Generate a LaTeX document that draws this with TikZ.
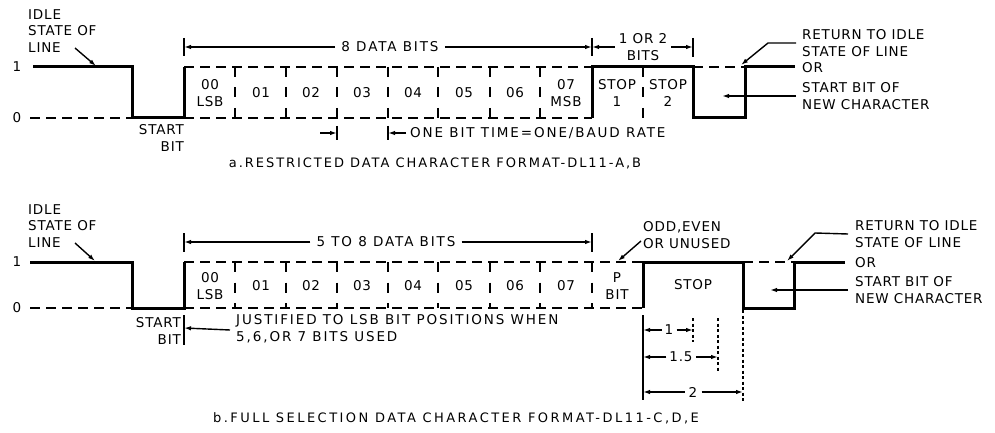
\documentclass[tikz,border=0pt]{standalone}
\usepackage{fontspec}
\setmainfont{DejaVu Sans}[LetterSpace=6]
\usetikzlibrary{arrows.meta}

\begin{document}
\begin{tikzpicture}[x=1pt, y=-1pt,
        signal/.style={line width=3pt},
        level/.style={line width=2pt, dash pattern=on 10pt off 6pt},
        divider/.style={line width=1.7pt, dash pattern=on 10pt off 10.5pt},
        tick/.style={line width=1.4pt},
        dim/.style={line width=1.4pt, -{Latex[length=7pt,width=4.5pt]}},
        guide/.style={line width=1.3pt, dash pattern=on 3pt off 2.5pt},
        lbl/.style={font=\fontsize{13.5}{16.5}\selectfont, inner sep=0pt, align=center},
        wide/.style={lbl, font=\fontsize{13.5}{16.5}\selectfont\addfontfeature{LetterSpace=14}},
        caption/.style={font=\fontsize{13}{15}\selectfont\addfontfeature{LetterSpace=#1}, inner sep=0pt}
    ]
        \useasboundingbox (0,0) rectangle (995,433);

        % ===== a. Restricted format =====
        % Levels
        \node[lbl] (oneA) at (17,67) {1};
        \node[lbl] (zeroA) at (17,118) {0};

        % Waveform
        \draw[level] (30,118) -- (132,118);
        \draw[signal] (33,67) -- (132,67) -- (132,118) -- (184,118) -- (184,67);
        \draw[level] (184,67) -- (592,67);
        \draw[level] (184,118) -- (592,118);
        \draw[signal] (592,118) -- (592,67) -- (693,67) -- (693,118) -- (745,118) -- (745,67) -- (795,67);
        \draw[level] (693,67) -- (745,67);

        % Bit boundaries
        \draw[divider] (235,67) -- (235,118);
        \draw[divider] (286,67) -- (286,118);
        \draw[divider] (337,67) -- (337,118);
        \draw[divider] (388,67) -- (388,118);
        \draw[divider] (438,67) -- (438,118);
        \draw[divider] (490,67) -- (490,118);
        \draw[divider] (540,67) -- (540,118);
        \draw[divider] (643,67) -- (643,118);

        % Bits
        \node[lbl] (b0A) at (210,93) {00\\LSB};
        \node[lbl] (b1A) at (261,93) {01};
        \node[lbl] (b2A) at (311,93) {02};
        \node[lbl] (b3A) at (362,93) {03};
        \node[lbl] (b4A) at (413,93) {04};
        \node[lbl] (b5A) at (464,93) {05};
        \node[lbl] (b6A) at (515,93) {06};
        \node[lbl] (b7A) at (566,93) {07\\MSB};
        \node[lbl] (stop1A) at (617,93) {STOP\\1};
        \node[lbl] (stop2A) at (668,93) {STOP\\2};

        % Data bits / stop bits span
        \draw[tick] (184,38) -- (184,56);
        \draw[tick] (592,38) -- (592,56);
        \draw[tick] (693,38) -- (693,57);
        \coordinate (dataLA) at (184,47);
        \coordinate (dataRA) at (592,47);
        \coordinate (stopRA) at (693,47);
        \node[wide, inner sep=6pt] (dataA) at (390,47) {8 DATA BITS};
        \draw[dim] (dataA) -- (dataLA);
        \draw[dim] (dataA) -- (dataRA);
        \node[lbl, inner sep=4pt] (stopbitsA) at (643,47) {1 OR 2\\BITS};
        \draw[dim] (stopbitsA) -- (dataRA);
        \draw[dim] (stopbitsA) -- (stopRA);

        % One bit time
        \draw[tick] (337,126) -- (337,140);
        \draw[tick] (388,126) -- (388,140);
        \coordinate (bitInA) at (320,133);
        \coordinate (bitLA) at (337,133);
        \coordinate (bitRA) at (388,133);
        \node[wide, anchor=west, inner sep=4pt] (bittimeA) at (406,133) {ONE BIT TIME=ONE/BAUD RATE};
        \draw[dim] (bitInA) -- (bitLA);
        \draw[dim] (bittimeA.west) -- (bitRA);

        % Start bit and idle
        \node[lbl, align=right, anchor=east] (startA) at (184,138) {START\\BIT};
        \node[lbl, align=left, anchor=west] (idleA) at (28,31) {IDLE\\STATE OF\\LINE};
        \coordinate (idleFromA) at (75,48);
        \coordinate (idleTipA) at (96,66);
        \draw[dim] (idleFromA) -- (idleTipA);

        % Right side notes
        \node[lbl, align=left, anchor=west] (returnA) at (802,43) {RETURN TO IDLE\\STATE OF LINE};
        \node[lbl, anchor=west] (orA) at (802,68) {OR};
        \node[lbl, align=left, anchor=west] (newcharA) at (802,96) {START BIT OF\\NEW CHARACTER};
        \coordinate (returnKneeA) at (768,43);
        \coordinate (returnTipA) at (741,65);
        \draw[dim] ([xshift=-6pt]returnA.west) -- (returnKneeA) -- (returnTipA);
        \coordinate (newTipA) at (722,96);
        \draw[dim] ([xshift=-6pt]newcharA.west) -- (newTipA);

        \node[caption=15] (capA) at (435,163) {a.RESTRICTED DATA CHARACTER FORMAT-DL11-A,B};

        % ===== b. Full selection format =====
        % Levels
        \node[lbl] (oneB) at (17,262) {1};
        \node[lbl] (zeroB) at (17,308) {0};

        % Waveform
        \draw[level] (30,308) -- (132,308);
        \draw[signal] (30,262) -- (132,262) -- (132,308) -- (184,308) -- (184,262);
        \draw[level] (184,262) -- (643,262);
        \draw[level] (184,308) -- (643,308);
        \draw[signal] (643,308) -- (643,262) -- (743,262) -- (743,308) -- (794,308) -- (794,262) -- (845,262);
        \draw[level] (743,262) -- (794,262);

        % Bit boundaries
        \draw[divider] (235,262) -- (235,308);
        \draw[divider] (286,262) -- (286,308);
        \draw[divider] (337,262) -- (337,308);
        \draw[divider] (388,262) -- (388,308);
        \draw[divider] (438,262) -- (438,308);
        \draw[divider] (490,262) -- (490,308);
        \draw[divider] (540,262) -- (540,308);
        \draw[divider] (592,262) -- (592,308);

        % Bits
        \node[lbl] (b0B) at (210,286) {00\\LSB};
        \node[lbl] (b1B) at (261,286) {01};
        \node[lbl] (b2B) at (311,286) {02};
        \node[lbl] (b3B) at (362,286) {03};
        \node[lbl] (b4B) at (413,286) {04};
        \node[lbl] (b5B) at (464,286) {05};
        \node[lbl] (b6B) at (515,286) {06};
        \node[lbl] (b7B) at (566,286) {07};
        \node[lbl] (parityB) at (617,286) {P\\BIT};
        \node[lbl] (stopB) at (693,285) {STOP};

        % Data bits span
        \draw[tick] (184,233) -- (184,252);
        \draw[tick] (592,233) -- (592,252);
        \coordinate (dataLB) at (184,242);
        \coordinate (dataRB) at (592,242);
        \node[wide, inner sep=6pt] (dataB) at (386,242) {5 TO 8 DATA BITS};
        \draw[dim] (dataB) -- (dataLB);
        \draw[dim] (dataB) -- (dataRB);

        % Parity note
        \node[lbl, align=left, anchor=west] (parityNoteB) at (643,235) {ODD,EVEN\\OR UNUSED};
        \coordinate (parityFromB) at (641,241);
        \coordinate (parityTipB) at (618,261);
        \draw[dim] (parityFromB) -- (parityTipB);

        % Start bit and justification note
        \node[lbl, align=right, anchor=east] (startB) at (181,331) {START\\BIT};
        \draw[tick] (184,315) -- (184,345);
        \coordinate (justTipB) at (184,328);
        \node[wide, align=left, anchor=west] (justB) at (236,329) {JUSTIFIED TO LSB BIT POSITIONS WHEN\\5,6,OR 7 BITS USED};
        \draw[dim] ([xshift=-6pt,yshift=-1pt]justB.west) -- (justTipB);

        % Idle
        \node[lbl, align=left, anchor=west] (idleB) at (28,226) {IDLE\\STATE OF\\LINE};
        \coordinate (idleFromB) at (75,243);
        \coordinate (idleTipB) at (95,261);
        \draw[dim] (idleFromB) -- (idleTipB);

        % Stop length spans
        \draw[tick] (643,315) -- (643,400);
        \draw[guide] (693,318) -- (693,342);
        \draw[guide] (718,318) -- (718,372);
        \draw[guide] (743,310) -- (743,402);
        \node[lbl, inner sep=3pt] (oneStopB) at (669,330) {1};
        \node[lbl, inner sep=3pt] (oneHalfB) at (681,357) {1.5};
        \node[lbl, inner sep=4pt] (twoStopB) at (693,392) {2};
        \draw[dim] (oneStopB) -- (643,330);
        \draw[dim] (oneStopB) -- (693,330);
        \draw[dim] (oneHalfB) -- (643,357);
        \draw[dim] (oneHalfB) -- (718,357);
        \draw[dim] (twoStopB) -- (643,392);
        \draw[dim] (twoStopB) -- (743,392);

        % Right side notes
        \node[lbl, align=left, anchor=west] (returnB) at (855,234) {RETURN TO IDLE\\STATE OF LINE};
        \node[lbl, anchor=west] (orB) at (855,263) {OR};
        \node[lbl, align=left, anchor=west] (newcharB) at (855,290) {START BIT OF\\NEW CHARACTER};
        \coordinate (returnKneeB) at (815,233);
        \coordinate (returnTipB) at (787,261);
        \draw[dim] ([xshift=-7pt]returnB.west) -- (returnKneeB) -- (returnTipB);
        \coordinate (newTipB) at (770,290);
        \draw[dim] ([xshift=-7pt]newcharB.west) -- (newTipB);

        \node[caption=19] (capB) at (456,418) {b.FULL SELECTION DATA CHARACTER FORMAT-DL11-C,D,E};
    \end{tikzpicture}
\end{document}
